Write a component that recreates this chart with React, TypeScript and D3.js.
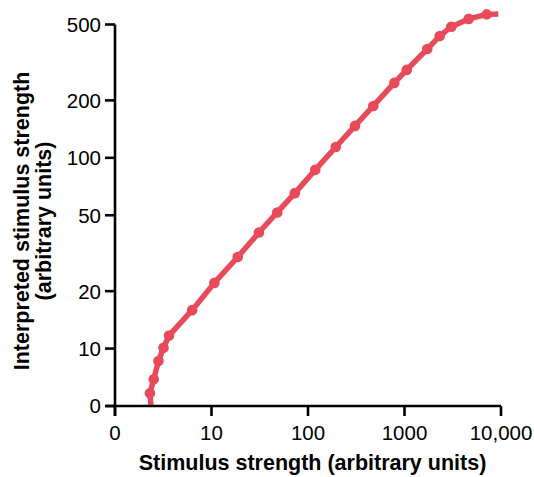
import React from "react";
import * as d3 from "d3";

const stimulus = [2.36, 2.3, 2.52, 2.82, 3.18, 3.63, 6.3, 10.7, 18.7, 31, 48, 73, 119, 194, 307, 475, 784, 1054, 1722, 2316, 3055, 4626, 7110, 9373];
const interpreted = [5, 5.83, 6.9, 8.6, 10.1, 11.7, 15.9, 22.1, 30.2, 40.6, 51.7, 65.3, 86.5, 114, 147, 187, 247, 289, 372, 435, 487, 535, 565, 567];
const marked = [false, true, true, true, true, true, true, true, true, true, true, true, true, true, true, true, true, true, true, true, true, true, true, false];

const xTickValues = [1, 10, 100, 1000, 10000];
const xTickLabels = ["0", "10", "100", "1000", "10,000"];
const yTickValues = [5, 10, 20, 50, 100, 200, 500];
const yTickLabels = ["0", "10", "20", "50", "100", "200", "500"];

const xTitle = "Stimulus strength (arbitrary units)";
const yTitleLines = ["Interpreted stimulus strength", "(arbitrary units)"];

const W = 534, H = 477;
const COLOR = "#e84a5a";
const FONT = "'Liberation Sans', Arial, Helvetica, sans-serif";

export default function App() {
  const x = d3.scaleLog().domain([1, 10000]).range([115, 501]);
  const y = d3.scaleLog().domain([5, 500]).range([406, 24.5]);
  const pts = stimulus.map((s, i) => ({ s, v: interpreted[i], m: marked[i] }));
  const line = d3.line<{ s: number; v: number }>().x(d => x(d.s)).y(d => y(d.v));
  const x0 = x.range()[0];
  const y0 = y.range()[0];
  const tick = 10;
  return (
    <svg width={W} height={H} style={{ position: "absolute", left: 0, top: 0, background: "#fff" }} fontFamily={FONT}>
      <path d={line(pts) || ""} fill="none" stroke={COLOR} strokeWidth={5.5} strokeLinejoin="round" strokeLinecap="butt" />
      {pts.filter(p => p.m).map((p, i) => (
        <circle key={i} cx={x(p.s)} cy={y(p.v)} r={5.3} fill={COLOR} />
      ))}
      {/* axes */}
      <line x1={x0 - tick} x2={x.range()[1]} y1={y0} y2={y0} stroke="#000" strokeWidth={2.6} />
      <line x1={x0} x2={x0} y1={y0 + tick} y2={y.range()[1]} stroke="#000" strokeWidth={2.6} />
      {xTickValues.map((t, i) => (
        <g key={"x" + i}>
          <line x1={x(t)} x2={x(t)} y1={y0} y2={y0 + tick} stroke="#000" strokeWidth={2.6} />
          <text x={x(t)} y={440} textAnchor="middle" fontSize={20.5}>{xTickLabels[i]}</text>
        </g>
      ))}
      {yTickValues.map((t, i) => (
        <g key={"y" + i}>
          <line x1={x0 - tick} x2={x0} y1={y(t)} y2={y(t)} stroke="#000" strokeWidth={2.6} />
          <text x={x0 - 14} y={y(t)} dy="0.36em" textAnchor="end" fontSize={20.5}>{yTickLabels[i]}</text>
        </g>
      ))}
      <text x={312.5} y={470} textAnchor="middle" fontSize={21.5} fontWeight="bold">{xTitle}</text>
      {yTitleLines.map((l, i) => (
        <text key={i} transform={`translate(${28.5 + i * 22},221) rotate(-90)`} textAnchor="middle" fontSize={21.5} fontWeight="bold">{l}</text>
      ))}
    </svg>
  );
}
